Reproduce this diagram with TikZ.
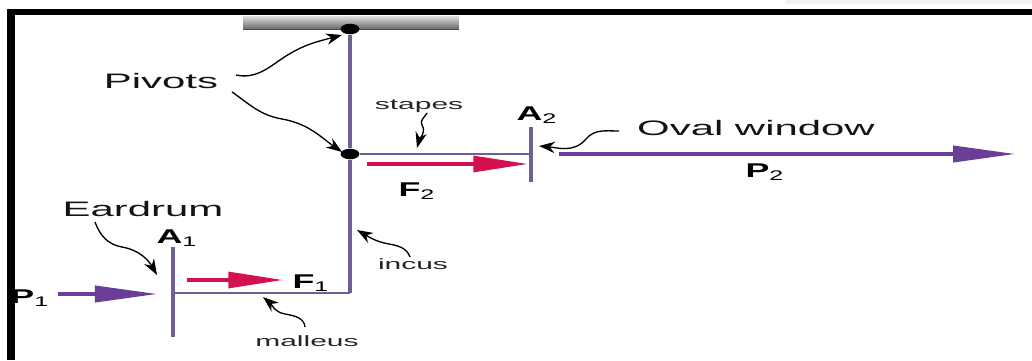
\documentclass[tikz,border=0pt]{standalone}
\usepackage{fontspec}
\setmainfont{Liberation Sans}
\usetikzlibrary{arrows.meta, shapes.geometric}
\definecolor{bone}{HTML}{6F5F93}
\definecolor{presarrow}{HTML}{6A3D96}
\definecolor{forcearrow}{HTML}{D4114F}
\tikzset{
  biglabel/.style={font=\fontsize{15.8pt}{18pt}\selectfont, text=black!92, inner sep=0pt, transform shape, xscale=2},
  smalllabel/.style={font=\fontsize{11.3pt}{13pt}\selectfont, text=black!85, inner sep=0pt, transform shape, xscale=2},
  symlabel/.style={font=\fontsize{15pt}{17pt}\selectfont, inner sep=0pt, transform shape, xscale=1.8},
  pivot/.style={ellipse, fill=black, minimum width=0.5cm, minimum height=0.28cm, inner sep=0pt},
  boneline/.style={draw=bone, line width=2.6pt},
  thinbone/.style={draw=bone, line width=1.7pt},
  squiggle/.style={draw=black, line width=1pt, -{Stealth[length=0.42cm, width=0.3cm]}},
  presline/.style={draw=presarrow, line width=3.3pt, -{Triangle[length=1.67cm, width=0.42cm]}},
  forceline/.style={draw=forcearrow, line width=2.6pt, -{Triangle[length=1.45cm, width=0.42cm]}}
}
\begin{document}
\begin{tikzpicture}[x=0.0265cm, y=-0.0265cm]
    \useasboundingbox (0,0) rectangle (1032,360);
    \fill[white] (0,0) rectangle (1032,360);
    \fill[gray!10] (785,0) rectangle (1032,4);

    % wall and pivots
    \node[minimum width=5.72cm, minimum height=0.37cm, inner sep=0pt, top color=gray!25, bottom color=gray!75!black] (wall) at (351,23) {};
    \coordinate (walll) at (243,29.5);
    \coordinate (wallr) at (459,29.5);
    \draw[draw=bone!70!black, line width=1.3pt] (walll) -- (wallr);
    \node[pivot] (top) at (350,29) {};
    \node[pivot] (mid) at (350,154) {};
    \coordinate (corner) at (350,293);

    % membranes
    \coordinate (a1up) at (173,247);
    \coordinate (a1down) at (173,337);
    \coordinate (a1mid) at (173,293);
    \coordinate (a2up) at (531,127);
    \coordinate (a2down) at (531,182);
    \coordinate (a2mid) at (531,154);

    \draw[boneline] (top) -- (mid);
    \draw[boneline] (mid) -- (corner);
    \draw[thinbone] (corner) -- (a1mid);
    \draw[thinbone] (mid) -- (a2mid);
    \draw[boneline] (a1up) -- (a1down);
    \draw[boneline] (a2up) -- (a2down);

    % labels
    \node[biglabel] (pivots) at (161,81) {Pivots};
    \node[biglabel] (eardrum) at (143,209) {Eardrum};
    \node[biglabel] (oval) at (756,128) {Oval window};
    \node[smalllabel] (stapes) at (419,106) {stapes};
    \node[smalllabel] (incus) at (413,264) {incus};
    \node[smalllabel] (malleus) at (307,341) {malleus};
    \node[symlabel] (a1) at (177,238) {\textbf{A}\textsubscript{1}};
    \node[symlabel] (a2) at (537,115) {\textbf{A}\textsubscript{2}};
    \node[symlabel] (f1) at (311,283) {\textbf{F}\textsubscript{1}};
    \node[symlabel] (f2) at (417,191) {\textbf{F}\textsubscript{2}};
    \node[symlabel] (p1) at (30,298) {\textbf{P}\textsubscript{1}};
    \node[symlabel] (p2) at (765,172) {\textbf{P}\textsubscript{2}};

    % force and pressure arrows
    \coordinate (p1a) at (58,294);
    \coordinate (p1b) at (158,294);
    \coordinate (p2a) at (559,154);
    \coordinate (p2b) at (1016,154);
    \coordinate (f1a) at (187,280);
    \coordinate (f1b) at (283,280);
    \coordinate (f2a) at (367,164);
    \coordinate (f2b) at (528,164);
    \draw[presline] (p1a) to (p1b);
    \draw[presline] (p2a) to (p2b);
    \draw[forceline] (f1a) to (f1b);
    \draw[forceline] (f2a) to (f2b);

    % squiggles
    \coordinate (s1a) at (236,75);
    \coordinate (s1m) at (280,60);
    \coordinate (s1b) at (342,35);
    \coordinate (s2a) at (232,92);
    \coordinate (s2m) at (282,119);
    \coordinate (s2b) at (342,152);
    \coordinate (s3a) at (427,113);
    \coordinate (s3m) at (422,125);
    \coordinate (s3b) at (417,148);
    \coordinate (s4a) at (619,131);
    \coordinate (s4m) at (586,139);
    \coordinate (s4b) at (539,146);
    \coordinate (s5a) at (95,222);
    \coordinate (s5m) at (122,247);
    \coordinate (s5b) at (157,275);
    \coordinate (s6a) at (410,257);
    \coordinate (s6m) at (389,244);
    \coordinate (s6b) at (357,230);
    \coordinate (s7a) at (305,327);
    \coordinate (s7m) at (285,314);
    \coordinate (s7b) at (263,297);
    \draw[squiggle] (s1a) to[out=-12, in=215] (s1m) to[out=35, in=195] (s1b);
    \draw[squiggle] (s2a) to[out=-35, in=170] (s2m) to[out=-10, in=145] (s2b);
    \draw[squiggle] (s3a) to[out=240, in=120] (s3m) to[out=-60, in=75] (s3b);
    \draw[squiggle] (s4a) to[out=180, in=50] (s4m) to[out=230, in=-5] (s4b);
    \draw[squiggle] (s5a) to[out=-70, in=170] (s5m) to[out=-10, in=120] (s5b);
    \draw[squiggle] (s6a) to[out=110, in=-10] (s6m) to[out=170, in=-30] (s6b);
    \draw[squiggle] (s7a) to[out=95, in=-10] (s7m) to[out=170, in=-40] (s7b);

    % frame
    \fill[black] (7,9) rectangle (1032,15);
    \fill[black] (7,9) rectangle (15,360);
\end{tikzpicture}
\end{document}
